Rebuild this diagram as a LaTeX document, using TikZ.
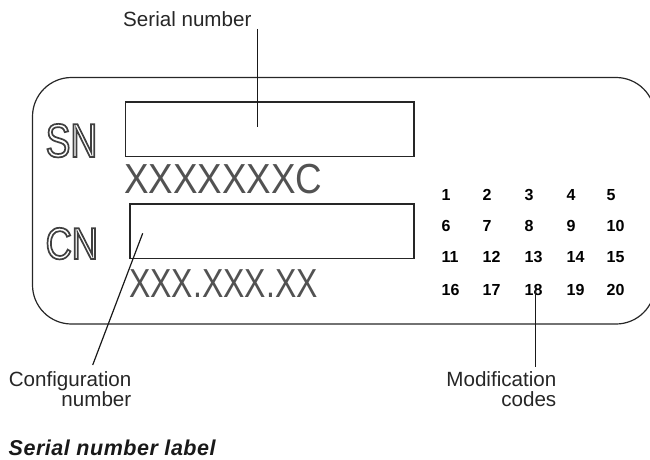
\documentclass[tikz,border=0pt]{standalone}
\usepackage{fontspec}
\setmainfont{Liberation Sans}
\newfontfamily\snfont[FakeStretch=0.78]{Liberation Sans}
\newfontfamily\cnfont[FakeStretch=0.81]{Liberation Sans}
\newfontfamily\xafont[FakeStretch=0.876]{Liberation Sans}
\newfontfamily\xbfont[FakeStretch=0.79]{Liberation Sans}
\newfontfamily\capfont[LetterSpace=2.5]{Liberation Sans}
\newcommand\hollowtext[1]{\special{pdf:literal direct 1 Tr 1.7 w}#1\special{pdf:literal direct 0 Tr}}
\tikzset{
  frame/.style={draw=black!85, line width=1.2pt},
  field/.style={draw=black!85, line width=1.3pt},
  leader/.style={draw=black!90, line width=1.2pt},
  lbl/.style={inner sep=0pt, font=\fontsize{20.6}{20}\selectfont, text=black!85},
  code/.style={inner sep=0pt, anchor=west, font=\bfseries\fontsize{16}{16}\selectfont},
  big/.style={inner sep=0pt, anchor=base west},
}
\begin{document}
\begin{tikzpicture}[x=1pt,y=-1pt]
\useasboundingbox (0,0) rectangle (650,460);
% outer label frame
\draw[frame, rounded corners=39pt] (32.5,77.5) rectangle (655,324);
% fields
\draw[field] (125.5,102) rectangle (414,156.5);
\draw[field] (130,204) rectangle (414,258.3);
% big letters
\node[big, text=black!75] (sn) at (45.5,157) {\snfont\fontsize{47.5}{47.5}\selectfont\hollowtext{SN}};
\node[big, text=black!75] (cn) at (45.5,259) {\cnfont\fontsize{44.7}{44.7}\selectfont\hollowtext{CN}};
\node[big, text=black!68] (xa) at (124,193) {\xafont\fontsize{42}{42}\selectfont XXXXXXXC};
\node[big, text=black!68] (xb) at (129,297) {\xbfont\fontsize{40.5}{40.5}\selectfont XXX.XXX.XX};
% modification code grid
\foreach \r/\yy in {0/195, 1/225.8, 2/256.7, 3/290.3}{
  \foreach \c/\xx in {1/441.5, 2/482.5, 3/524.5, 4/566.5, 5/606.5}{
    \pgfmathtruncatemacro{\num}{\r*5+\c}
    \node[code] (m\num) at (\xx,\yy) {\num};
  }
}
% labels
\node[lbl, anchor=base west] (snlbl) at (123,27) {Serial number};
\node[lbl, anchor=north east, align=right] (cnlbl) at (131.5,371.5) {Configuration\\number};
\node[lbl, anchor=north east, align=right] (mclbl) at (556.5,371.5) {Modification\\codes};
\node[inner sep=0pt, anchor=base west, text=black!90] (title) at (8.5,455)
  {\capfont\bfseries\itshape\fontsize{21.5}{21.5}\selectfont Serial number label};
% leader lines
\coordinate (snA) at (257.7,29);
\coordinate (snB) at (257.7,126.7);
\coordinate (cnA) at (92.7,365);
\coordinate (cnB) at (142.7,233.3);
\coordinate (mcA) at (535.7,366.7);
\coordinate (mcB) at (535.7,286.7);
\draw[leader] (snA) -- (snB);
\draw[leader] (cnA) -- (cnB);
\draw[leader] (mcA) -- (mcB);
\end{tikzpicture}
\end{document}
